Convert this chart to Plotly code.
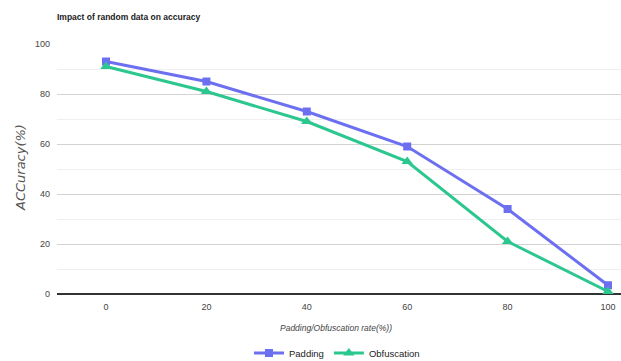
import plotly.graph_objects as go

rates = [0, 20, 40, 60, 80, 100]
padding = [93, 85, 73, 59, 34, 3.5]
obfuscation = [91, 81, 69, 53, 21, 1]
y_ticks = [0, 20, 40, 60, 80, 100]

FONT = "Liberation Sans Narrow, Liberation Sans, Arial"
W, H = 621, 361
L, R, T, B = 57, 0, 44, 67
PW, PH = W - L - R, H - T - B

def px_x(x):
    return (x - L) / PW

def px_y(y):
    return (H - B - y) / PH

fig = go.Figure()
fig.add_trace(go.Scatter(
    x=rates, y=padding, name="Padding", mode="lines+markers",
    line=dict(color="#6c70f0", width=3),
    marker=dict(symbol="square", size=8, color="#6c70f0"),
    cliponaxis=False,
))
fig.add_trace(go.Scatter(
    x=rates, y=obfuscation, name="Obfuscation", mode="lines+markers",
    line=dict(color="#2cc78f", width=3),
    marker=dict(symbol="triangle-up", size=10, color="#2cc78f"),
    cliponaxis=False,
))

fig.update_layout(
    width=W, height=H,
    margin=dict(l=L, r=R, t=T, b=B, autoexpand=False),
    paper_bgcolor="white", plot_bgcolor="white",
    font=dict(family=FONT, size=9, color="#444"),
    title=dict(text="<b>Impact of random data on accuracy</b>", x=57/W, xanchor="left",
               y=1-17/H, yanchor="middle", font=dict(size=8.5, color="#222", family=FONT)),
    showlegend=True,
    legend=dict(orientation="h", x=px_x(337), xanchor="center", y=px_y(353),
                yanchor="middle", font=dict(size=9.5, color="#222", family=FONT),
                itemwidth=30, tracegroupgap=0),
    xaxis=dict(
        range=[-9.76, 102.59], tickvals=rates, ticktext=[str(r) for r in rates],
        showgrid=False, zeroline=False, showline=False, ticks="", automargin=False,
        ticklabelstandoff=6,
        tickfont=dict(size=9, color="#444"),
    ),
    yaxis=dict(
        range=[0, 100], tickvals=y_ticks, showgrid=True, gridcolor="#d3d3d3", gridwidth=1,
        zeroline=True, zerolinecolor="#333", zerolinewidth=1.5, automargin=False,
        showline=False, ticks="", ticklabelstandoff=6,
        tickfont=dict(size=9, color="#444"),
        minor=dict(dtick=10, tick0=0, showgrid=True, gridcolor="#efefef", gridwidth=1),
    ),
    annotations=[
        dict(text="<i>Padding/Obfuscation rate(%))</i>", xref="paper", yref="paper",
             x=px_x(336), y=px_y(328), xanchor="center", yanchor="middle",
             showarrow=False, font=dict(size=8.5, color="#444", family=FONT)),
        dict(text="<i>ACCuracy(%)</i>", xref="paper", yref="paper", textangle=-90,
             x=px_x(20), y=px_y(168), xanchor="center", yanchor="middle",
             showarrow=False, font=dict(size=13, color="#555", family="DejaVu Sans")),
    ],
)

fig.write_html("out.html", config={"displayModeBar": False},
               post_script="document.body.style.margin='0';")
